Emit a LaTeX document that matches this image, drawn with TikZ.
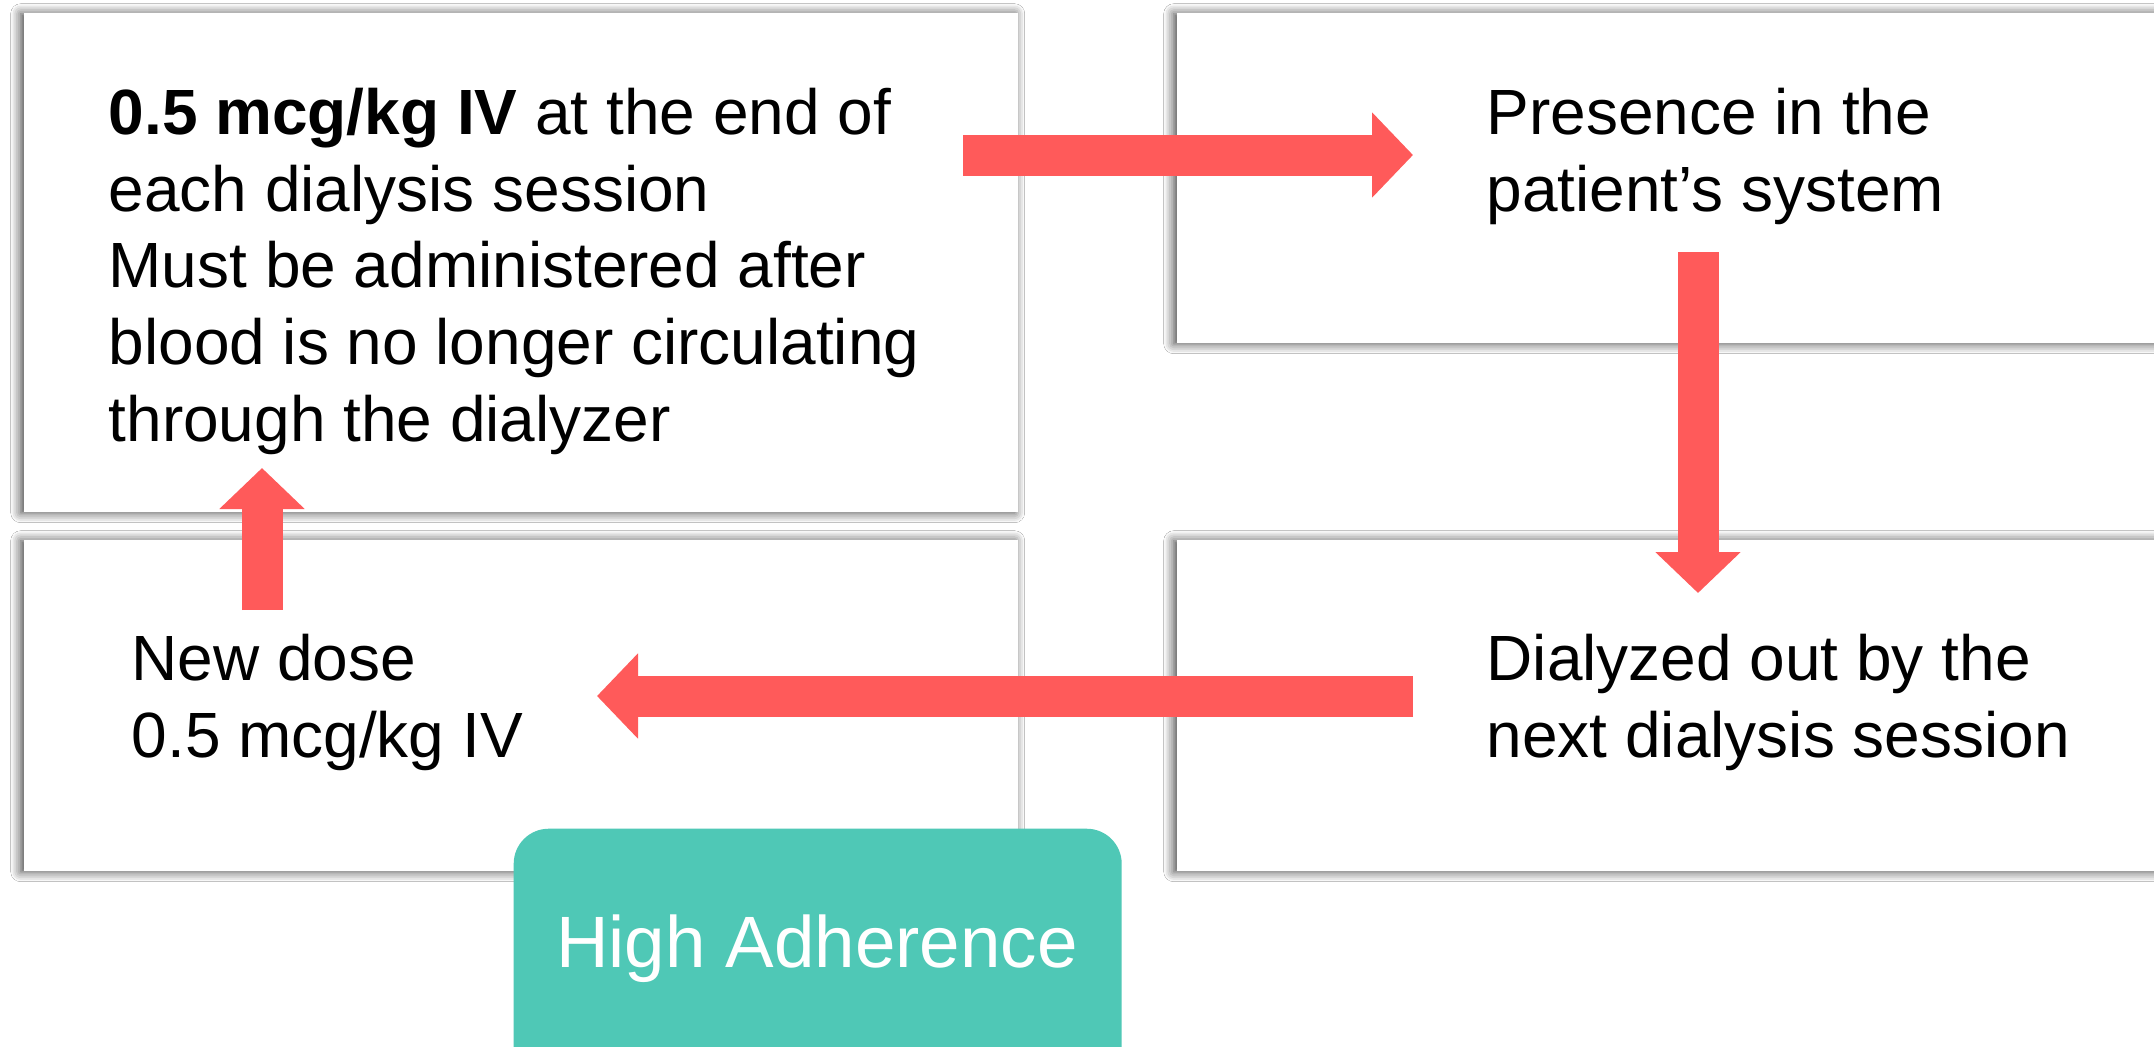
\documentclass[tikz,border=0pt]{standalone}
\usepackage{fontspec}
\setmainfont{Liberation Sans}
\usetikzlibrary{arrows.meta,shadows.blur}
\definecolor{arrowred}{HTML}{FF5A5A}
\definecolor{tealbox}{HTML}{4FC8B6}
\tikzset{
  card/.style={fill=white, draw=none, inner sep=0pt, anchor=north west,
    blur shadow={shadow xshift=-0.3mm, shadow yshift=-0.1mm, shadow blur radius=1mm, shadow blur steps=6, shadow opacity=75}},
  blockarrow/.style={draw=arrowred, line width=4.1mm, line cap=butt,
    -{Triangle[width=8.3mm,length=4.1mm]}},
  bodytext/.style={anchor=base west, inner sep=0pt, align=left,
    font=\fontsize{18.2pt}{21.8pt}\selectfont},
  badge/.style={fill=tealbox, rounded corners=3.5mm, draw=none, anchor=north west, inner sep=0pt}
}
\begin{document}
\begin{tikzpicture}[x=0.1mm,y=-0.1mm]
\useasboundingbox (0,0) rectangle (2154,1046);
\clip (0,0) rectangle (2154,1046);
\fill[white] (0,0) rectangle (2154,1046);
% boxes
\node[card, minimum width=99.4mm, minimum height=49.9mm] (b1) at (23,12) {};
\node[card, minimum width=110mm, minimum height=33mm] (b2) at (1176,12) {};
\node[card, minimum width=99.4mm, minimum height=33.1mm] (b3) at (23,539) {};
\node[card, minimum width=110mm, minimum height=33.1mm] (b4) at (1176,539) {};
% texts (base anchor = baseline of last line)
\node[bodytext] (t1) at (108,441) {\textbf{0.5 mcg/kg IV} at the end of\\each dialysis session\\Must be administered after\\blood is no longer circulating\\through the dialyzer};
\node[bodytext] (t2) at (1486,211) {Presence in the\\patient’s system};
\node[bodytext] (t3) at (131,757.5) {New dose\\0.5 mcg/kg IV};
\node[bodytext] (t4) at (1486,757.5) {Dialyzed out by the\\next dialysis session};
% arrows
\coordinate (r1) at (963,155);
\coordinate (r2) at (1413,155);
\coordinate (d1) at (1698,252);
\coordinate (d2) at (1698,593);
\coordinate (l1) at (1413,696);
\coordinate (l2) at (597,696);
\coordinate (u1) at (262,610);
\coordinate (u2) at (262,468);
\draw[blockarrow] (r1) -- (r2);
\draw[blockarrow] (d1) -- (d2);
\draw[blockarrow] (l1) -- (l2);
\draw[blockarrow] (u1) -- (u2);
% badge
\node[badge, minimum width=60.8mm, minimum height=30mm] (g) at (513,828) {};
\node[anchor=base, inner sep=0pt, text=white, font=\fontsize{20.7pt}{24pt}\selectfont] (gt) at (817,967) {High Adherence};
\end{tikzpicture}
\end{document}
